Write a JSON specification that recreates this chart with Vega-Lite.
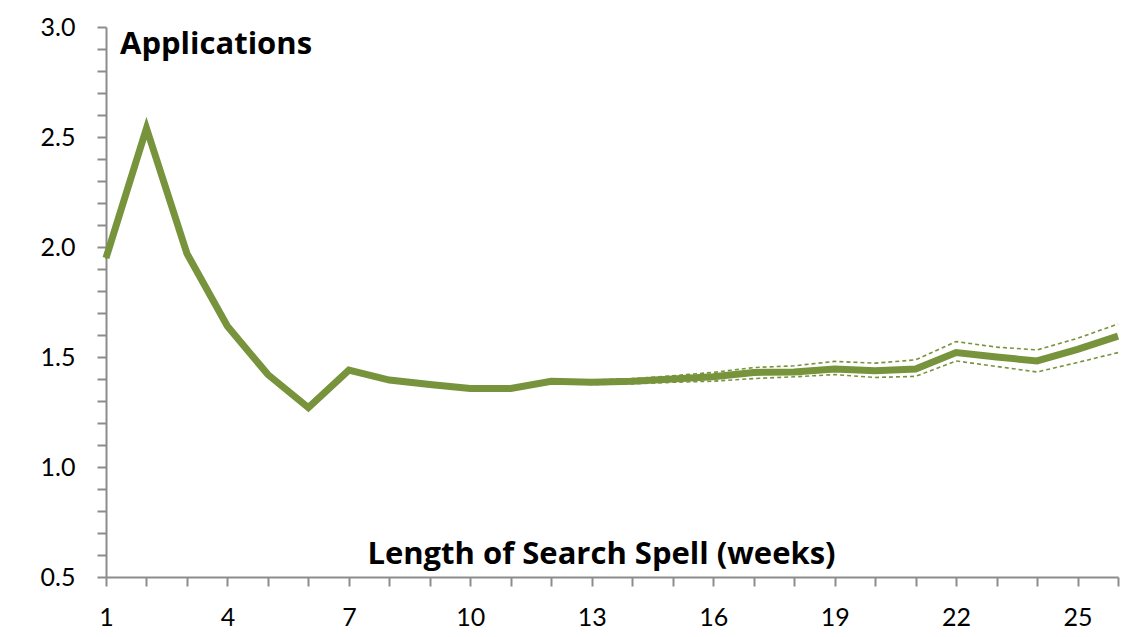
{
  "$schema": "https://vega.github.io/schema/vega-lite/v6.json",
  "autosize": "none",
  "width": 1012,
  "height": 550,
  "padding": {"left": 106, "top": 27, "right": 21, "bottom": 60},
  "background": "white",
  "title": {
    "text": "Applications",
    "anchor": "start",
    "frame": "group",
    "orient": "top",
    "offset": -70,
    "dx": 14,
    "font": "Open Sans",
    "fontSize": 31,
    "fontWeight": "bold",
    "color": "black",
    "baseline": "alphabetic"
  },
  "data": {
    "values": [
      {"week": 1, "value": 1.95, "lower": 1.945, "upper": 1.955},
      {"week": 2, "value": 2.54, "lower": 2.535, "upper": 2.545},
      {"week": 3, "value": 1.97, "lower": 1.965, "upper": 1.975},
      {"week": 4, "value": 1.64, "lower": 1.635, "upper": 1.645},
      {"week": 5, "value": 1.42, "lower": 1.415, "upper": 1.425},
      {"week": 6, "value": 1.27, "lower": 1.265, "upper": 1.275},
      {"week": 7, "value": 1.44, "lower": 1.435, "upper": 1.445},
      {"week": 8, "value": 1.395, "lower": 1.39, "upper": 1.4},
      {"week": 9, "value": 1.375, "lower": 1.37, "upper": 1.38},
      {"week": 10, "value": 1.357, "lower": 1.352, "upper": 1.362},
      {"week": 11, "value": 1.357, "lower": 1.352, "upper": 1.362},
      {"week": 12, "value": 1.39, "lower": 1.383, "upper": 1.397},
      {"week": 13, "value": 1.385, "lower": 1.375, "upper": 1.395},
      {"week": 14, "value": 1.39, "lower": 1.378, "upper": 1.402},
      {"week": 15, "value": 1.4, "lower": 1.385, "upper": 1.415},
      {"week": 16, "value": 1.41, "lower": 1.39, "upper": 1.43},
      {"week": 17, "value": 1.43, "lower": 1.402, "upper": 1.452},
      {"week": 18, "value": 1.432, "lower": 1.41, "upper": 1.46},
      {"week": 19, "value": 1.445, "lower": 1.42, "upper": 1.48},
      {"week": 20, "value": 1.437, "lower": 1.407, "upper": 1.472},
      {"week": 21, "value": 1.445, "lower": 1.412, "upper": 1.487},
      {"week": 22, "value": 1.52, "lower": 1.482, "upper": 1.57},
      {"week": 23, "value": 1.5, "lower": 1.457, "upper": 1.545},
      {"week": 24, "value": 1.482, "lower": 1.432, "upper": 1.532},
      {"week": 25, "value": 1.535, "lower": 1.475, "upper": 1.585},
      {"week": 26, "value": 1.595, "lower": 1.52, "upper": 1.65}
    ]
  },
  "encoding": {
    "x": {
      "field": "week",
      "type": "quantitative",
      "scale": {"domain": [1, 26], "nice": false, "zero": false},
      "axis": {
        "values": [1,2,3,4,5,6,7,8,9,10,11,12,13,14,15,16,17,18,19,20,21,22,23,24,25,26],
        "tickCount": 200,
        "format": "d",
        "labelExpr": "(datum.value - 1) % 3 == 0 ? format(datum.value, 'd') : ''",
        "grid": false,
        "domainColor": "#8c8c8c",
        "domainWidth": 2,
        "tickColor": "#8c8c8c",
        "tickWidth": 2,
        "tickSize": 9,
        "labelFont": "Lato",
        "labelFontSize": 25,
        "labelColor": "black",
        "labelPadding": 19,
        "labelFlush": false,
        "labelOverlap": false,
        "title": "Length of Search Spell (weeks)",
        "titleFont": "Open Sans",
        "titleFontSize": 31,
        "titleFontWeight": "bold",
        "titleColor": "black",
        "titleY": -14,
        "titleX": 495,
        "titleBaseline": "alphabetic",
        "titleAnchor": "middle"
      }
    }
  },
  "layer": [
    {
      "mark": {"type": "line", "color": "#77933C", "strokeWidth": 1.6, "strokeDash": [4, 3]},
      "encoding": {
        "y": {
          "field": "lower",
          "type": "quantitative",
          "scale": {"domain": [0.5, 3.0], "nice": false, "zero": false},
          "axis": {
            "values": [0.5,0.6,0.7,0.8,0.9,1.0,1.1,1.2,1.3,1.4,1.5,1.6,1.7,1.8,1.9,2.0,2.1,2.2,2.3,2.4,2.5,2.6,2.7,2.8,2.9,3.0],
            "tickCount": 200,
            "labelExpr": "abs(datum.value * 2 - round(datum.value * 2)) < 0.001 ? format(datum.value, '.1f') : ''",
            "grid": false,
            "domainColor": "#8c8c8c",
            "domainWidth": 2,
            "tickColor": "#8c8c8c",
            "tickWidth": 2,
            "tickSize": 9,
            "labelFont": "Lato",
            "labelFontSize": 25,
            "labelColor": "black",
            "labelPadding": 22,
            "labelFlush": false,
            "labelOverlap": false,
            "title": null
          }
        }
      }
    },
    {
      "mark": {"type": "line", "color": "#77933C", "strokeWidth": 1.6, "strokeDash": [4, 3]},
      "encoding": {"y": {"field": "upper", "type": "quantitative"}}
    },
    {
      "mark": {"type": "line", "color": "#77933C", "strokeWidth": 7, "strokeJoin": "miter"},
      "encoding": {"y": {"field": "value", "type": "quantitative"}}
    }
  ],
  "config": {"view": {"stroke": null}}
}
